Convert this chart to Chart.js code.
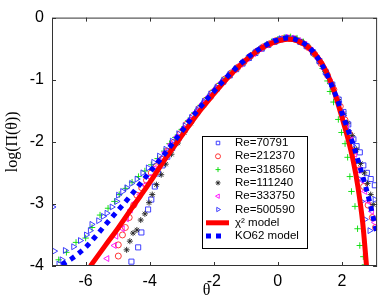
<!DOCTYPE html>
<html lang="en">
<head>
<meta charset="UTF-8">
<title>log PDF of theta</title>
<script src="https://cdn.jsdelivr.net/npm/chart.js@4"></script>
<style>
  html, body { margin: 0; padding: 0; background: #fff; }
  canvas { display: block; }
</style>
</head>
<body>
<canvas id="pdfChart" width="382" height="300"></canvas>
<script>
// tick values
const xTicks = [-6, -4, -2, 0, 2];
const yTicks = [-4, -3, -2, -1, 0];

// measured PDFs, [theta, log(Pi)]
const re70791 = [[-4.57,-3.93],[-4.36,-3.70],[-4.26,-3.46],[-4.05,-3.09],[-3.95,-2.93],[-3.84,-2.72],[-3.74,-2.51],[-3.6,-2.38],[-3.45,-2.24],[-3.3,-2.1],[-3.1,-1.94],[-2.9,-1.79],[-2.7,-1.65],[-2.5,-1.51],[-2.3,-1.38],[-2.1,-1.26],[-1.9,-1.14],[-1.7,-1.03],[-1.5,-0.93],[-1.3,-0.83],[-1.1,-0.74],[-0.9,-0.65],[-0.7,-0.57],[-0.5,-0.5],[-0.3,-0.44],[-0.1,-0.39],[0.1,-0.35],[0.3,-0.33],[0.5,-0.34],[0.7,-0.39],[0.9,-0.46],[1.1,-0.56],[1.3,-0.7],[1.5,-0.88],[1.7,-1.08],[1.9,-1.32],[2.05,-1.52],[2.2,-1.72],[2.36,-1.96],[2.46,-2.07],[2.56,-2.17],[2.67,-2.38],[2.78,-2.5],[2.9,-2.6],[3.03,-2.7]];
const re212370 = [[-4.98,-3.84],[-4.98,-3.66],[-4.85,-3.5],[-4.76,-3.38],[-4.64,-3.22],[-4.5,-3.02],[-4.4,-2.86],[-4.25,-2.74],[-4.1,-2.62],[-3.95,-2.5],[-3.8,-2.4],[-3.62,-2.28],[-3.45,-2.15],[-3.25,-2.01],[-3.05,-1.87],[-2.85,-1.72],[-2.65,-1.59],[-2.45,-1.46],[-2.25,-1.33],[-2.05,-1.21],[-1.85,-1.1],[-1.65,-0.99],[-1.45,-0.89],[-1.25,-0.8],[-1.05,-0.71],[-0.85,-0.62],[-0.65,-0.54],[-0.45,-0.47],[-0.25,-0.42],[-0.05,-0.37],[0.15,-0.34],[0.35,-0.33],[0.55,-0.35],[0.75,-0.4],[0.95,-0.48],[1.15,-0.59],[1.35,-0.74],[1.55,-0.93],[1.75,-1.16],[1.95,-1.43],[2.1,-1.65],[2.25,-1.88],[2.4,-2.15],[2.55,-2.45],[2.68,-2.72],[2.82,-3.02],[2.95,-3.22],[3.05,-3.38]];
const re318560 = [[-6.84,-3.9],[-6.6,-3.78],[-6.3,-3.62],[-6.0,-3.55],[-5.8,-3.38],[-5.55,-3.18],[-5.3,-3.07],[-5.1,-2.96],[-4.95,-2.85],[-4.75,-2.75],[-4.55,-2.65],[-4.35,-2.56],[-4.15,-2.47],[-3.95,-2.37],[-3.75,-2.27],[-3.55,-2.15],[-3.38,-2.03],[-3.2,-1.93],[-3.0,-1.8],[-2.8,-1.66],[-2.6,-1.53],[-2.4,-1.41],[-2.2,-1.29],[-2.0,-1.17],[-1.8,-1.06],[-1.6,-0.96],[-1.4,-0.86],[-1.2,-0.77],[-1.0,-0.68],[-0.8,-0.6],[-0.6,-0.52],[-0.4,-0.45],[-0.2,-0.39],[0.0,-0.35],[0.2,-0.32],[0.4,-0.31],[0.6,-0.33],[0.8,-0.39],[1.0,-0.49],[1.2,-0.63],[1.4,-0.82],[1.55,-1.02],[1.63,-1.19],[1.74,-1.36],[1.89,-1.64],[1.99,-1.85],[2.1,-2.03],[2.18,-2.25],[2.25,-2.56],[2.3,-2.8],[2.41,-3.04],[2.49,-3.4],[2.56,-3.67],[2.67,-3.85],[2.72,-3.98]];
const re111240 = [[-4.72,-3.74],[-4.62,-3.6],[-4.52,-3.47],[-4.4,-3.42],[-4.28,-3.26],[-4.15,-3.16],[-4.02,-2.98],[-3.92,-2.85],[-3.79,-2.69],[-3.64,-2.53],[-3.5,-2.36],[-3.32,-2.2],[-3.12,-2.02],[-2.92,-1.85],[-2.72,-1.7],[-2.52,-1.55],[-2.32,-1.41],[-2.12,-1.28],[-1.92,-1.15],[-1.72,-1.04],[-1.52,-0.93],[-1.32,-0.83],[-1.12,-0.74],[-0.92,-0.65],[-0.72,-0.57],[-0.52,-0.5],[-0.32,-0.44],[-0.12,-0.39],[0.08,-0.35],[0.28,-0.33],[0.48,-0.34],[0.68,-0.38],[0.88,-0.45],[1.08,-0.55],[1.28,-0.68],[1.48,-0.86],[1.68,-1.07],[1.88,-1.32],[2.05,-1.55],[2.18,-1.7],[2.32,-1.9],[2.45,-2.12],[2.58,-2.35],[2.7,-2.5],[2.8,-2.67],[2.9,-2.85],[2.98,-3.01]];
const re333750 = [[-5.33,-3.88],[-5.1,-3.67],[-5.05,-3.52],[-4.85,-3.4],[-4.72,-3.24],[-4.6,-3.1],[-4.45,-2.98],[-4.3,-2.85],[-4.15,-2.7],[-4.0,-2.57],[-3.85,-2.43],[-3.7,-2.3],[-3.52,-2.17],[-3.34,-2.04],[-3.15,-1.92],[-2.95,-1.79],[-2.75,-1.65],[-2.55,-1.52],[-2.35,-1.39],[-2.15,-1.27],[-1.95,-1.15],[-1.75,-1.04],[-1.55,-0.94],[-1.35,-0.84],[-1.15,-0.75],[-0.95,-0.66],[-0.75,-0.58],[-0.55,-0.5],[-0.35,-0.44],[-0.15,-0.39],[0.05,-0.35],[0.25,-0.32],[0.45,-0.33],[0.65,-0.37],[0.85,-0.43],[1.05,-0.53],[1.25,-0.66],[1.45,-0.83],[1.65,-1.04],[1.85,-1.3],[2.02,-1.55],[2.15,-1.75],[2.28,-1.97],[2.41,-2.2],[2.52,-2.46],[2.62,-2.62],[2.72,-2.8],[2.82,-2.96],[2.93,-3.12],[3.03,-3.3]];
const re500590 = [[-7.03,-3.05],[-6.98,-3.76],[-6.84,-3.97],[-6.74,-3.9],[-6.64,-3.75],[-6.38,-3.69],[-6.17,-3.59],[-5.98,-3.5],[-5.86,-3.43],[-5.81,-3.33],[-5.6,-3.27],[-5.45,-3.2],[-5.34,-3.15],[-5.18,-3.05],[-5.03,-2.96],[-4.98,-2.86],[-4.85,-2.8],[-4.72,-2.74],[-4.57,-2.67],[-4.4,-2.6],[-4.22,-2.5],[-4.05,-2.42],[-3.88,-2.33],[-3.7,-2.23],[-3.5,-2.12],[-3.3,-1.99],[-3.1,-1.87],[-2.9,-1.74],[-2.7,-1.61],[-2.5,-1.48],[-2.3,-1.35],[-2.1,-1.23],[-1.9,-1.12],[-1.7,-1.01],[-1.5,-0.91],[-1.3,-0.82],[-1.1,-0.73],[-0.9,-0.64],[-0.7,-0.56],[-0.5,-0.49],[-0.3,-0.43],[-0.1,-0.38],[0.1,-0.34],[0.3,-0.32],[0.5,-0.34],[0.7,-0.38],[0.9,-0.45],[1.1,-0.56],[1.3,-0.7],[1.5,-0.88],[1.7,-1.1],[1.9,-1.36],[2.05,-1.58],[2.2,-1.82],[2.33,-2.06],[2.45,-2.32],[2.54,-2.6],[2.61,-2.96],[2.72,-3.25],[2.87,-3.43],[3.03,-2.93]];

// model curves
const chi2Model = [[-5.85,-4],[-5.4,-3.68],[-5,-3.4],[-4.6,-3.1],[-4.3,-2.88],[-3.9,-2.58],[-3.6,-2.34],[-3.2,-2.05],[-2.8,-1.76],[-2.4,-1.48],[-2,-1.23],[-1.6,-0.99],[-1.2,-0.78],[-0.8,-0.6],[-0.4,-0.46],[0,-0.38],[0.3,-0.35],[0.6,-0.37],[1,-0.5],[1.4,-0.76],[1.7,-1.1],[2,-1.6],[2.2,-1.97],[2.36,-2.32],[2.5,-2.72],[2.65,-3.3],[2.77,-4]];
const ko62Model = [[-6.74,-3.98],[-6.43,-3.88],[-6.0,-3.7],[-5.65,-3.5],[-5.29,-3.28],[-4.88,-3.04],[-4.52,-2.82],[-4.1,-2.55],[-3.6,-2.24],[-3.0,-1.83],[-2.5,-1.49],[-2.0,-1.19],[-1.5,-0.91],[-1.0,-0.67],[-0.5,-0.48],[0,-0.36],[0.3,-0.33],[0.6,-0.36],[1.0,-0.49],[1.4,-0.78],[1.8,-1.24],[2.1,-1.68],[2.35,-2.04],[2.55,-2.38],[2.72,-2.68],[2.85,-2.93],[2.97,-3.2],[3.05,-3.38],[3.12,-3.5]];

const toXY = arr => arr.map(([x, y]) => ({ x, y }));

function markers(label, data, color, style, order, size, rotation) {
    return {
        label,
        data: toXY(data),
        showLine: false,
        pointStyle: style,
        rotation: rotation || 0,
        pointRadius: size,
        pointBorderWidth: 0.9,
        borderWidth: 0.9,
        borderColor: color,
        backgroundColor: 'rgba(0,0,0,0)',
        order
    };
}

const datasets = [
    markers('Re=70791', re70791, '#2a2aff', 'rect', 8, 3.6),
    markers('Re=212370', re212370, '#ff2020', 'circle', 7, 3),
    markers('Re=318560', re318560, '#00dd00', 'cross', 6, 3.2),
    markers('Re=111240', re111240, '#222222', 'star', 5, 3),
    markers('Re=333750', re333750, '#ff00ff', 'triangle', 4, 3.4, -90),
    markers('Re=500590', re500590, '#2a2aff', 'triangle', 3, 3.4, 90),
    {
        label: 'χ² model',
        data: toXY(chi2Model),
        showLine: true,
        borderColor: '#ff0000',
        borderWidth: 5,
        pointRadius: 0,
        cubicInterpolationMode: 'monotone',
        clip: 0,
        order: 1
    },
    {
        label: 'KO62 model',
        data: toXY(ko62Model),
        showLine: true,
        borderColor: '#0000ff',
        borderWidth: 5,
        borderDash: [5, 5],
        borderCapStyle: 'butt',
        pointRadius: 0,
        cubicInterpolationMode: 'monotone',
        clip: 0,
        order: 0
    }
];

// axes box with inward ticks on all four sides
const frameTicks = {
    id: 'frameTicks',
    afterDatasetsDraw(chart) {
        const { ctx, chartArea: a, scales } = chart;
        ctx.save();
        ctx.strokeStyle = '#333';
        ctx.lineWidth = 1;
        ctx.beginPath();
        scales.x.ticks.forEach(t => {
            const px = Math.round(scales.x.getPixelForValue(t.value)) + 0.5;
            ctx.moveTo(px, a.bottom); ctx.lineTo(px, a.bottom - 4);
            ctx.moveTo(px, a.top); ctx.lineTo(px, a.top + 4);
        });
        scales.y.ticks.forEach(t => {
            const py = Math.round(scales.y.getPixelForValue(t.value)) + 0.5;
            ctx.moveTo(a.left, py); ctx.lineTo(a.left + 4, py);
            ctx.moveTo(a.right, py); ctx.lineTo(a.right - 4, py);
        });
        ctx.stroke();
        ctx.strokeRect(a.left + 0.5, a.top + 0.5, a.width - 1, a.height - 1);
        ctx.restore();
    }
};

// boxed legend inside the plot
const boxLegend = {
    id: 'boxLegend',
    afterDraw(chart) {
        const ctx = chart.ctx;
        const left = 202, top = 136, w = 105, h = 112;
        ctx.save();
        ctx.fillStyle = '#fff';
        ctx.fillRect(left, top, w, h);
        ctx.strokeStyle = '#000';
        ctx.lineWidth = 1;
        ctx.strokeRect(left + 0.5, top + 0.5, w, h);
        ctx.font = '11.5px "Liberation Sans", Arial, sans-serif';
        ctx.textBaseline = 'middle';
        chart.data.datasets.forEach((ds, i) => {
            const y = 143 + i * 13.3;
            if (ds.showLine) {
                ctx.save();
                ctx.strokeStyle = ds.borderColor;
                ctx.lineWidth = ds.borderWidth;
                ctx.lineCap = 'butt';
                ctx.setLineDash(ds.borderDash || []);
                ctx.beginPath();
                ctx.moveTo(206, y);
                ctx.lineTo(ds.borderDash ? 221 : 229, y);
                ctx.stroke();
                ctx.restore();
            } else if (Chart.helpers && Chart.helpers.drawPoint) {
                ctx.save();
                ctx.strokeStyle = ds.borderColor;
                ctx.fillStyle = ds.backgroundColor;
                ctx.lineWidth = ds.borderWidth;
                Chart.helpers.drawPoint(ctx, {
                    pointStyle: ds.pointStyle,
                    rotation: ds.rotation,
                    radius: 2.5,
                    borderWidth: ds.borderWidth
                }, 218, y);
                ctx.restore();
            }
            ctx.fillStyle = '#000';
            ctx.fillText(ds.label, 235, y);
        });
        ctx.restore();
    }
};

const tickFont = { family: '"Liberation Sans", Arial, sans-serif', size: 16 };

new Chart(document.getElementById('pdfChart').getContext('2d'), {
    type: 'scatter',
    data: { datasets },
    options: {
        responsive: false,
        animation: false,
        devicePixelRatio: 1,
        layout: { padding: { top: 13, right: 3, left: 0, bottom: 0 } },
        plugins: { legend: { display: false }, tooltip: { enabled: false } },
        scales: {
            x: {
                type: 'linear',
                min: -7.05,
                max: 3.1,
                afterBuildTicks: s => { s.ticks = xTicks.map(v => ({ value: v })); },
                afterFit: s => { s.height = 34; },
                grid: { display: false, drawTicks: false },
                border: { display: false },
                ticks: { font: tickFont, color: '#000', padding: 6, maxRotation: 0 },
                title: {
                    display: true,
                    text: 'θ\u2003',
                    color: '#000',
                    font: { family: '"Liberation Serif", "Times New Roman", serif', size: 16 },
                    padding: { top: 0, bottom: 0 }
                }
            },
            y: {
                type: 'linear',
                min: -4,
                max: 0,
                afterBuildTicks: s => { s.ticks = yTicks.map(v => ({ value: v })); },
                afterFit: s => { s.width = 52; },
                grid: { display: false, drawTicks: false },
                border: { display: false },
                ticks: { font: tickFont, color: '#000', padding: 8 },
                title: {
                    display: true,
                    text: 'log(Π(θ))',
                    color: '#000',
                    font: { family: '"Liberation Serif", "Times New Roman", serif', size: 16 },
                    padding: { top: 3, bottom: 0 }
                }
            }
        }
    },
    plugins: [frameTicks, boxLegend]
});
</script>
</body>
</html>
